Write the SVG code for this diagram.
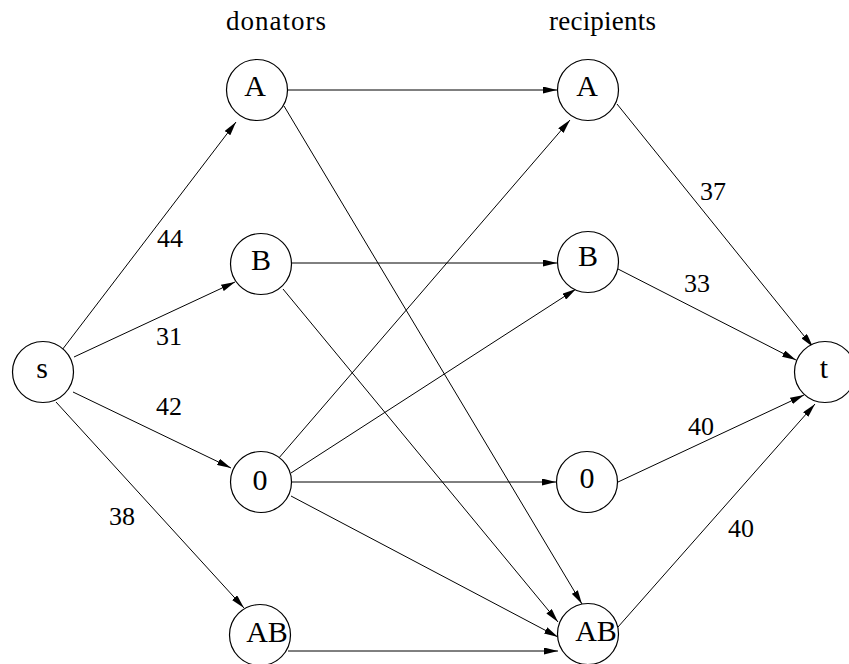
<svg xmlns="http://www.w3.org/2000/svg" width="849" height="664" viewBox="0 0 849 664">
  <defs>
    <marker id="arrow" viewBox="0 0 14 7" refX="14" refY="3.5" markerWidth="14" markerHeight="7" markerUnits="userSpaceOnUse" orient="auto">
      <path d="M0,0 L14,3.5 L0,7 Z" fill="#000"/>
    </marker>
  </defs>
  <style>
    .node circle { fill: #fff; stroke: #000; stroke-width: 1.2; }
    .node text { font-family: "Liberation Serif", "DejaVu Serif", serif; font-size: 30px; text-anchor: middle; fill: #000; }
    .edges line { stroke: #000; stroke-width: 1; marker-end: url(#arrow); }
    .lbl { font-family: "Liberation Serif", "DejaVu Serif", serif; font-size: 26px; text-anchor: middle; fill: #000; }
    .hdr { font-family: "Liberation Serif", "DejaVu Serif", serif; font-size: 27px; fill: #000; }
  </style>

  <rect width="849" height="664" fill="#fff"/>

  <text class="hdr" x="226" y="30" textLength="100" lengthAdjust="spacing">donators</text>
  <text class="hdr" x="549" y="30" textLength="107" lengthAdjust="spacing">recipients</text>

  <g class="edges">
    <line x1="62" y1="350" x2="236" y2="122"/>
    <line x1="74" y1="357" x2="235" y2="282"/>
    <line x1="73" y1="392" x2="231" y2="468"/>
    <line x1="56" y1="402" x2="244" y2="608"/>
    <line x1="288" y1="90" x2="557" y2="90"/>
    <line x1="284" y1="106" x2="582" y2="604"/>
    <line x1="292" y1="263" x2="557" y2="263"/>
    <line x1="283" y1="289" x2="558" y2="622"/>
    <line x1="278" y1="459" x2="570" y2="120"/>
    <line x1="291" y1="473" x2="576" y2="289"/>
    <line x1="292" y1="482" x2="556" y2="482"/>
    <line x1="291" y1="496" x2="558" y2="637"/>
    <line x1="288" y1="651" x2="558" y2="651"/>
    <line x1="617" y1="104" x2="813" y2="347"/>
    <line x1="618" y1="269" x2="796" y2="360"/>
    <line x1="618" y1="482" x2="804" y2="395"/>
    <line x1="618" y1="627" x2="815" y2="404"/>
  </g>

  <text class="lbl" x="170" y="247">44</text>
  <text class="lbl" x="169" y="345">31</text>
  <text class="lbl" x="169" y="415">42</text>
  <text class="lbl" x="122" y="525">38</text>
  <text class="lbl" x="713" y="200">37</text>
  <text class="lbl" x="697" y="292">33</text>
  <text class="lbl" x="701" y="435">40</text>
  <text class="lbl" x="741" y="537">40</text>

  <g id="s" class="node"><circle cx="43" cy="372" r="30.5"/><text x="42" y="378">s</text></g>
  <g id="donor-A" class="node"><circle cx="257" cy="90" r="30.5"/><text x="255" y="96">A</text></g>
  <g id="donor-B" class="node"><circle cx="261" cy="264" r="30.5"/><text x="261" y="270">B</text></g>
  <g id="donor-0" class="node"><circle cx="261" cy="482" r="30.5"/><text x="260" y="490">0</text></g>
  <g id="donor-AB" class="node"><circle cx="260" cy="635" r="30.5"/><text x="267" y="642">AB</text></g>
  <g id="recipient-A" class="node"><circle cx="588" cy="90" r="30.5"/><text x="587" y="96">A</text></g>
  <g id="recipient-B" class="node"><circle cx="588" cy="262" r="30.5"/><text x="588" y="266">B</text></g>
  <g id="recipient-0" class="node"><circle cx="587" cy="482" r="30.5"/><text x="587" y="488">0</text></g>
  <g id="recipient-AB" class="node"><circle cx="588" cy="634" r="30.5"/><text x="596" y="641">AB</text></g>
  <g id="t" class="node"><circle cx="825" cy="372" r="30.5"/><text x="824" y="378">t</text></g>
</svg>
